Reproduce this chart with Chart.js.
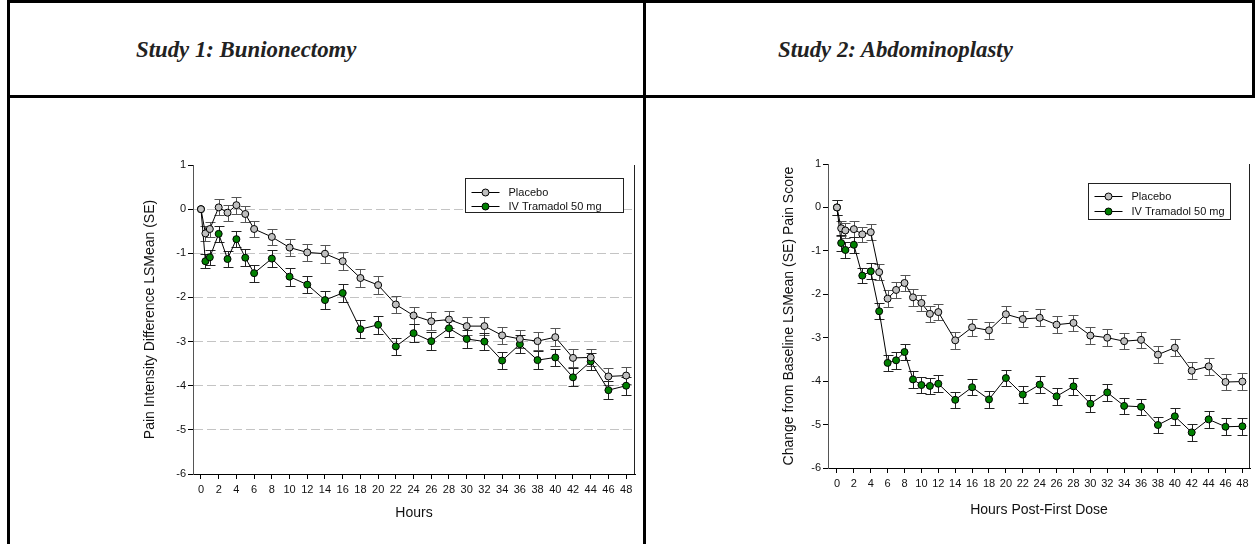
<!DOCTYPE html>
<html>
<head>
<meta charset="utf-8">
<script src="https://cdn.jsdelivr.net/npm/chart.js@4.4.0/dist/chart.umd.min.js"></script>
<style>
  body { margin: 0; background: #fff; width: 1255px; height: 544px; overflow: hidden; position: relative; }
  .rule { position: absolute; background: #000; }
  .title {
    position: absolute; top: 36px;
    font-family: 'Liberation Serif', 'Times New Roman', serif;
    font-weight: bold; font-style: italic; font-size: 24px; color: #222;
    white-space: nowrap;
    transform: scaleX(0.95); transform-origin: left center;
  }
  canvas { position: absolute; }
</style>
</head>
<body>
<!-- table frame -->
<div class="rule" style="left:7px;top:0;width:1248px;height:3px"></div>
<div class="rule" style="left:7px;top:95px;width:1248px;height:3px"></div>
<div class="rule" style="left:7px;top:0;width:3px;height:544px"></div>
<div class="rule" style="left:643px;top:0;width:3px;height:544px"></div>
<div class="rule" style="left:1252px;top:0;width:3px;height:98px"></div>

<div class="title" style="left:136px">Study 1: Bunionectomy</div>
<div class="title" style="left:778px">Study 2: Abdominoplasty</div>

<canvas id="study1" width="632" height="444" style="left:10px;top:100px"></canvas>
<canvas id="study2" width="608" height="444" style="left:647px;top:100px"></canvas>

<script>
// ---- data ----
const seriesNames = ['Placebo', 'IV Tramadol 50 mg'];
const hourTicks = [0, 2, 4, 6, 8, 10, 12, 14, 16, 18, 20, 22, 24, 26, 28, 30, 32, 34, 36, 38, 40, 42, 44, 46, 48];
const valueTicks = [1, 0, -1, -2, -3, -4, -5, -6];

// Study 1: Bunionectomy
const study1Hours = [0, 0.5, 1, 2, 3, 4, 5, 6, 8, 10, 12, 14, 16, 18, 20, 22, 24, 26, 28, 30, 32, 34, 36, 38, 40, 42, 44, 46, 48];
const study1Placebo = [0, -0.55, -0.45, 0.04, -0.08, 0.09, -0.11, -0.45, -0.63, -0.87, -0.98, -1.01, -1.18, -1.56, -1.72, -2.16, -2.41, -2.54, -2.50, -2.65, -2.65, -2.86, -2.94, -2.99, -2.90, -3.37, -3.36, -3.79, -3.77];
const study1PlaceboSE = [0, 0.17, 0.17, 0.18, 0.18, 0.19, 0.19, 0.18, 0.18, 0.19, 0.2, 0.2, 0.2, 0.2, 0.2, 0.2, 0.2, 0.2, 0.2, 0.2, 0.2, 0.2, 0.2, 0.2, 0.2, 0.2, 0.2, 0.2, 0.2];
const study1Tramadol = [0, -1.18, -1.09, -0.56, -1.13, -0.68, -1.10, -1.45, -1.12, -1.53, -1.71, -2.06, -1.90, -2.72, -2.62, -3.11, -2.81, -2.99, -2.70, -2.94, -3.00, -3.43, -3.06, -3.42, -3.36, -3.81, -3.45, -4.10, -4.00];
const study1TramadolSE = [0, 0.16, 0.17, 0.18, 0.18, 0.18, 0.19, 0.19, 0.2, 0.2, 0.2, 0.2, 0.2, 0.2, 0.2, 0.2, 0.2, 0.2, 0.2, 0.2, 0.2, 0.2, 0.2, 0.2, 0.2, 0.2, 0.2, 0.2, 0.2];

// Study 2: Abdominoplasty
const study2Hours = [0, 0.5, 1, 2, 3, 4, 5, 6, 7, 8, 9, 10, 11, 12, 14, 16, 18, 20, 22, 24, 26, 28, 30, 32, 34, 36, 38, 40, 42, 44, 46, 48];
const study2Placebo = [0, -0.48, -0.53, -0.50, -0.62, -0.57, -1.49, -2.10, -1.90, -1.74, -2.07, -2.20, -2.45, -2.41, -3.06, -2.76, -2.83, -2.46, -2.57, -2.54, -2.70, -2.66, -2.95, -3.00, -3.08, -3.05, -3.39, -3.23, -3.76, -3.66, -4.02, -4.01];
const study2PlaceboSE = [0.18, 0.17, 0.17, 0.18, 0.18, 0.18, 0.18, 0.19, 0.19, 0.18, 0.19, 0.19, 0.19, 0.19, 0.2, 0.19, 0.19, 0.19, 0.19, 0.19, 0.19, 0.19, 0.19, 0.19, 0.19, 0.19, 0.19, 0.19, 0.19, 0.19, 0.19, 0.19];
const study2Tramadol = [0, -0.82, -0.98, -0.86, -1.57, -1.47, -2.39, -3.58, -3.52, -3.33, -3.96, -4.09, -4.11, -4.06, -4.43, -4.14, -4.42, -3.93, -4.31, -4.08, -4.35, -4.12, -4.52, -4.26, -4.57, -4.59, -5.01, -4.81, -5.18, -4.88, -5.05, -5.04];
const study2TramadolSE = [0.18, 0.18, 0.18, 0.18, 0.18, 0.18, 0.18, 0.19, 0.19, 0.19, 0.19, 0.19, 0.19, 0.19, 0.19, 0.19, 0.19, 0.19, 0.19, 0.19, 0.19, 0.19, 0.19, 0.19, 0.19, 0.19, 0.19, 0.19, 0.19, 0.19, 0.19, 0.19];

const fontFamily = "'Liberation Sans', Arial, sans-serif";
const placeboFill = '#c0c0c0';
const tramadolFill = '#008000';

// error bars behind the markers
const errorBars = {
  id: 'errorBars',
  beforeDatasetsDraw(chart) {
    const { ctx, scales: { x, y } } = chart;
    chart.data.datasets.forEach(ds => {
      ctx.save();
      ctx.strokeStyle = ds.barColor;
      ctx.lineWidth = 1;
      ds.data.forEach((p, j) => {
        const se = ds.se[j];
        if (!se) return;
        const px = Math.round(x.getPixelForValue(p.x)) + 0.5;
        const top = Math.round(y.getPixelForValue(p.y + se)) + 0.5;
        const bot = Math.round(y.getPixelForValue(p.y - se)) + 0.5;
        ctx.beginPath();
        ctx.moveTo(px, top); ctx.lineTo(px, bot);
        ctx.moveTo(px - 5, top); ctx.lineTo(px + 5, top);
        ctx.moveTo(px - 5, bot); ctx.lineTo(px + 5, bot);
        ctx.stroke();
      });
      ctx.restore();
    });
  }
};

// right edge of the plot frame
const plotFrame = {
  id: 'plotFrame',
  afterDraw(chart) {
    const { ctx, chartArea: a } = chart;
    ctx.save();
    ctx.strokeStyle = '#222';
    ctx.lineWidth = 1;
    ctx.beginPath();
    ctx.moveTo(a.right - 0.5, a.top);
    ctx.lineTo(a.right - 0.5, a.bottom);
    ctx.stroke();
    ctx.restore();
  }
};

// boxed legend inside the plot, line + marker samples
const plotLegend = {
  id: 'plotLegend',
  afterDraw(chart, args, opts) {
    const { ctx, chartArea: a } = chart;
    const left = Math.round(a.right - opts.inset - opts.width) + 0.5;
    const top = Math.round(a.top + opts.top) + 0.5;
    ctx.save();
    ctx.fillStyle = '#fff';
    ctx.fillRect(left, top, opts.width, opts.height);
    ctx.strokeStyle = '#222';
    ctx.lineWidth = 1;
    ctx.strokeRect(left, top, opts.width, opts.height);
    ctx.font = '11px ' + fontFamily;
    ctx.textBaseline = 'middle';
    chart.data.datasets.forEach((ds, i) => {
      const yy = top + opts.rows[i];
      ctx.strokeStyle = '#000';
      ctx.beginPath();
      ctx.moveTo(left + 6, yy); ctx.lineTo(left + 34, yy);
      ctx.stroke();
      ctx.beginPath();
      ctx.arc(left + 20, yy, 3.5, 0, Math.PI * 2);
      ctx.fillStyle = ds.pointBackgroundColor;
      ctx.fill();
      ctx.stroke();
      ctx.fillStyle = '#111';
      ctx.fillText(ds.label, left + 43, yy);
    });
    ctx.restore();
  }
};

function series(label, hours, values, se, fill, barColor) {
  return {
    label,
    data: hours.map((h, i) => ({ x: h, y: values[i] })),
    se,
    barColor,
    borderColor: '#000',
    borderWidth: 1,
    pointRadius: 3.5,
    pointBackgroundColor: fill,
    pointBorderColor: '#000',
    pointBorderWidth: 1,
    tension: 0
  };
}

function makeChart(id, cfg) {
  return new Chart(document.getElementById(id), {
    type: 'line',
    data: {
      datasets: [
        series(seriesNames[0], cfg.hours, cfg.placebo, cfg.placeboSE, placeboFill, '#555'),
        series(seriesNames[1], cfg.hours, cfg.tramadol, cfg.tramadolSE, tramadolFill, '#222')
      ]
    },
    options: {
      responsive: false,
      animation: false,
      layout: { padding: cfg.padding },
      plugins: {
        legend: { display: false },
        tooltip: { enabled: false },
        plotLegend: cfg.legend
      },
      scales: {
        x: {
          type: 'linear',
          min: cfg.xMin,
          max: cfg.xMax,
          afterBuildTicks: s => { s.ticks = hourTicks.map(v => ({ value: v })); },
          afterFit: s => { s.height = cfg.xHeight; },
          grid: { drawOnChartArea: false, drawTicks: true, tickLength: 5, tickColor: '#000' },
          border: { color: '#000', width: 1 },
          ticks: { color: '#111', font: { size: 11, family: fontFamily }, padding: 4, maxRotation: 0, autoSkip: false },
          title: { display: true, text: cfg.xTitle, color: '#111', font: { size: 14, family: fontFamily }, padding: 0 }
        },
        y: {
          min: -6,
          max: 1,
          afterBuildTicks: s => { s.ticks = valueTicks.map(v => ({ value: v })); },
          afterFit: s => { s.width = cfg.yWidth; },
          grid: {
            color: c => (cfg.grid && c.tick && c.tick.value < 1 && c.tick.value > -6) ? '#c4c4c4' : 'rgba(0,0,0,0)',
            drawTicks: true, tickLength: 5, tickColor: '#000'
          },
          border: { color: '#555', width: 1, dash: cfg.grid ? [9, 4] : [] },
          ticks: { color: '#111', font: { size: 11, family: fontFamily }, padding: 2 },
          title: { display: true, text: cfg.yTitle, color: '#111', font: { size: 14, family: fontFamily }, padding: 0 }
        }
      }
    },
    plugins: [errorBars, plotFrame, plotLegend]
  });
}

makeChart('study1', {
  hours: study1Hours,
  placebo: study1Placebo, placeboSE: study1PlaceboSE,
  tramadol: study1Tramadol, tramadolSE: study1TramadolSE,
  xMin: -0.9, xMax: 49,
  xHeight: 48, yWidth: 51,
  padding: { left: 132, right: 7, top: 65, bottom: 22 },
  grid: true,
  xTitle: 'Hours',
  yTitle: 'Pain Intensity Difference LSMean (SE)',
  legend: { inset: 12, top: 13, width: 158, height: 34, rows: [14, 28] }
});

makeChart('study2', {
  hours: study2Hours,
  placebo: study2Placebo, placeboSE: study2PlaceboSE,
  tramadol: study2Tramadol, tramadolSE: study2TramadolSE,
  xMin: -1.06, xMax: 48.9,
  xHeight: 51, yWidth: 47,
  padding: { left: 134, right: 1, top: 64, bottom: 25 },
  grid: false,
  xTitle: 'Hours Post-First Dose',
  yTitle: 'Change from Baseline LSMean (SE) Pain Score',
  legend: { inset: 20, top: 19, width: 142, height: 36, rows: [13, 28] }
});
</script>
</body>
</html>
